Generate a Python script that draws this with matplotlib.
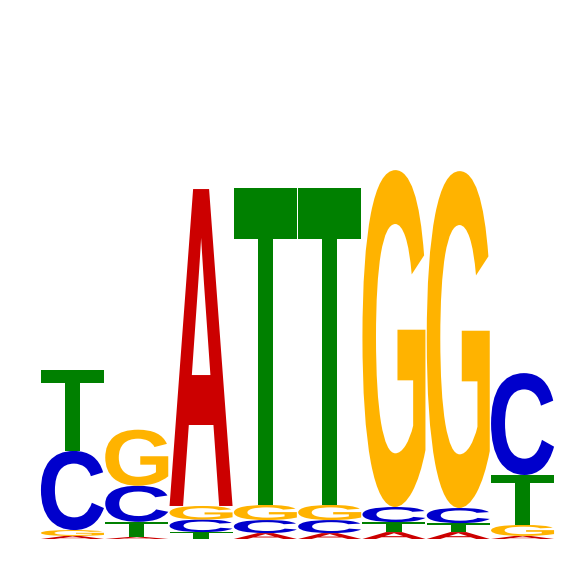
import numpy as np
import matplotlib
matplotlib.use("Agg")
import matplotlib.pyplot as plt
from matplotlib.textpath import TextPath
from matplotlib.patches import PathPatch
from matplotlib.font_manager import FontProperties
from matplotlib.transforms import Affine2D

# information content (bits) per base, per position
positions = [1, 2, 3, 4, 5, 6, 7, 8]
bits_A = [0.012, 0.008, 1.238, 0.023, 0.023, 0.027, 0.027, 0.012]
bits_C = [0.309, 0.141, 0.049, 0.051, 0.051, 0.059, 0.059, 0.398]
bits_G = [0.023, 0.219, 0.053, 0.059, 0.059, 1.316, 1.316, 0.043]
bits_T = [0.316, 0.059, 0.027, 1.238, 1.238, 0.039, 0.035, 0.195]

COLORS = {"A": "#CC0000", "C": "#0000CC", "G": "#FFB300", "T": "#008000"}
FP = FontProperties(family="Liberation Sans", weight="bold")


def draw_letter(ax, ch, x, y, w, h):
    if h <= 0:
        return
    tp = TextPath((0, 0), ch, size=1, prop=FP)
    bb = tp.get_extents()
    t = (Affine2D().translate(-bb.x0, -bb.y0)
         .scale(w / bb.width, h / bb.height)
         .translate(x, y))
    ax.add_patch(PathPatch(t.transform_path(tp), fc=COLORS[ch], ec="none"))


fig = plt.figure(figsize=(5.66, 5.66), dpi=100)
ax = fig.add_axes([40.3 / 566, 27 / 566, 514.4 / 566, 512 / 566])

for i, pos in enumerate(positions):
    col = {"A": bits_A[i], "C": bits_C[i], "G": bits_G[i], "T": bits_T[i]}
    y = 0.0
    # smallest at the bottom
    for ch, h in sorted(col.items(), key=lambda kv: kv[1]):
        draw_letter(ax, ch, pos - 0.49, y, 0.98, h)
        y += h

ax.set_xlim(0.5, 8.5)
ax.set_ylim(0, 2)
ax.axis("off")

fig.savefig("out.png", dpi=100)
